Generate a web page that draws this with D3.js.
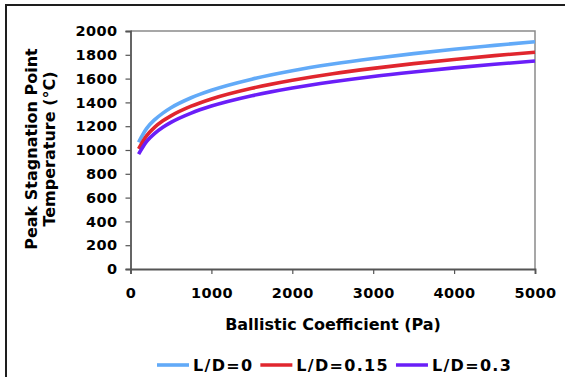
<!DOCTYPE html>
<html><head><meta charset="utf-8">
<script src="https://cdn.jsdelivr.net/npm/d3@7"></script>
<style>
html,body{margin:0;padding:0;background:#fff;}
text{font-family:"DejaVu Sans",Verdana,sans-serif;font-weight:bold;fill:#000;}
</style></head>
<body><svg id="c" width="565" height="377"></svg>
<script>
const ballistic = [100,200,300,400,500,750,1000,1500,2000,2500,3000,3500,4000,4500,5000];
const ld0   = [1065,1182,1255,1310,1355,1439,1502,1595,1666,1722,1769,1810,1847,1879,1910];
const ld015 = [1010,1121,1192,1245,1287,1368,1429,1519,1586,1641,1686,1726,1761,1793,1822];
const ld03  = [965,1072,1140,1191,1232,1310,1369,1456,1521,1573,1618,1656,1690,1720,1748];
const seriesNames = ["L/D=0","L/D=0.15","L/D=0.3"];
const seriesColors = ["#62aaf8","#e0262e","#6a1ef8"];
const xTicks = [0,1000,2000,3000,4000,5000];
const yTicks = [0,200,400,600,800,1000,1200,1400,1600,1800,2000];

const svg = d3.select("#c");
svg.append("rect").attr("x",6).attr("y",5).attr("width",600).attr("height",420)
  .attr("fill","none").attr("stroke","#1e1e1e").attr("stroke-width",2);

const L=130.5, R=535, T=31, B=269;
const x = d3.scaleLinear().domain([0,5000]).range([L,R]);
const y = d3.scaleLinear().domain([0,2000]).range([B,T]);

svg.append("path").attr("d",`M${L},${T}H${R}V${B}`).attr("fill","none")
  .attr("stroke","#8a8a8a").attr("stroke-width",1.5);

const gy = svg.append("g").attr("transform",`translate(${L},0)`)
  .call(d3.axisLeft(y).tickValues(yTicks).tickSize(5).tickPadding(8).tickFormat(d3.format("d")));
const gx = svg.append("g").attr("transform",`translate(0,${B})`)
  .call(d3.axisBottom(x).tickValues(xTicks).tickSize(5).tickPadding(14).tickFormat(d3.format("d")));
[gx,gy].forEach(g=>{
  g.select(".domain").attr("stroke","#555").attr("stroke-width",1.8);
  g.selectAll(".tick line").attr("stroke","#555").attr("stroke-width",1.2);
  g.selectAll(".tick text").style("font-size","14.5px").attr("fill","#000")
   .style("letter-spacing","0.4px")
   .style("font-family","'DejaVu Sans',sans-serif").style("font-weight","bold");
});

const data = [ld0, ld015, ld03];
const line = d3.line().x((d,i)=>x(ballistic[i])).y(d=>y(d)).curve(d3.curveMonotoneX);
data.forEach((s,k)=>{
  svg.append("path").datum(s).attr("d",line).attr("fill","none")
    .attr("stroke",seriesColors[k]).attr("stroke-width",3.6);
});

svg.append("text").attr("x",333).attr("y",330).attr("text-anchor","middle")
  .style("font-size","16px").text("Ballistic Coefficient (Pa)");
const yt = svg.append("text").attr("transform","translate(0,149) rotate(-90)")
  .attr("text-anchor","middle").style("font-size","16px");
yt.append("tspan").attr("x",0).attr("y",37).text("Peak Stagnation Point");
yt.append("tspan").attr("x",0).attr("y",55).text("Temperature (°C)");

const lg = svg.append("g");
let cx = 0;
seriesNames.forEach((n,k)=>{
  lg.append("line").attr("x1",cx).attr("x2",cx+32).attr("y1",0).attr("y2",0)
    .attr("stroke",seriesColors[k]).attr("stroke-width",3.6);
  const t = lg.append("text").attr("x",cx+36).attr("y",6).style("font-size","16px")
    .style("letter-spacing","1.3px").text(n);
  cx += 36 + t.node().getComputedTextLength() + 7;
});
lg.attr("transform",`translate(157,365)`);
</script></body></html>
